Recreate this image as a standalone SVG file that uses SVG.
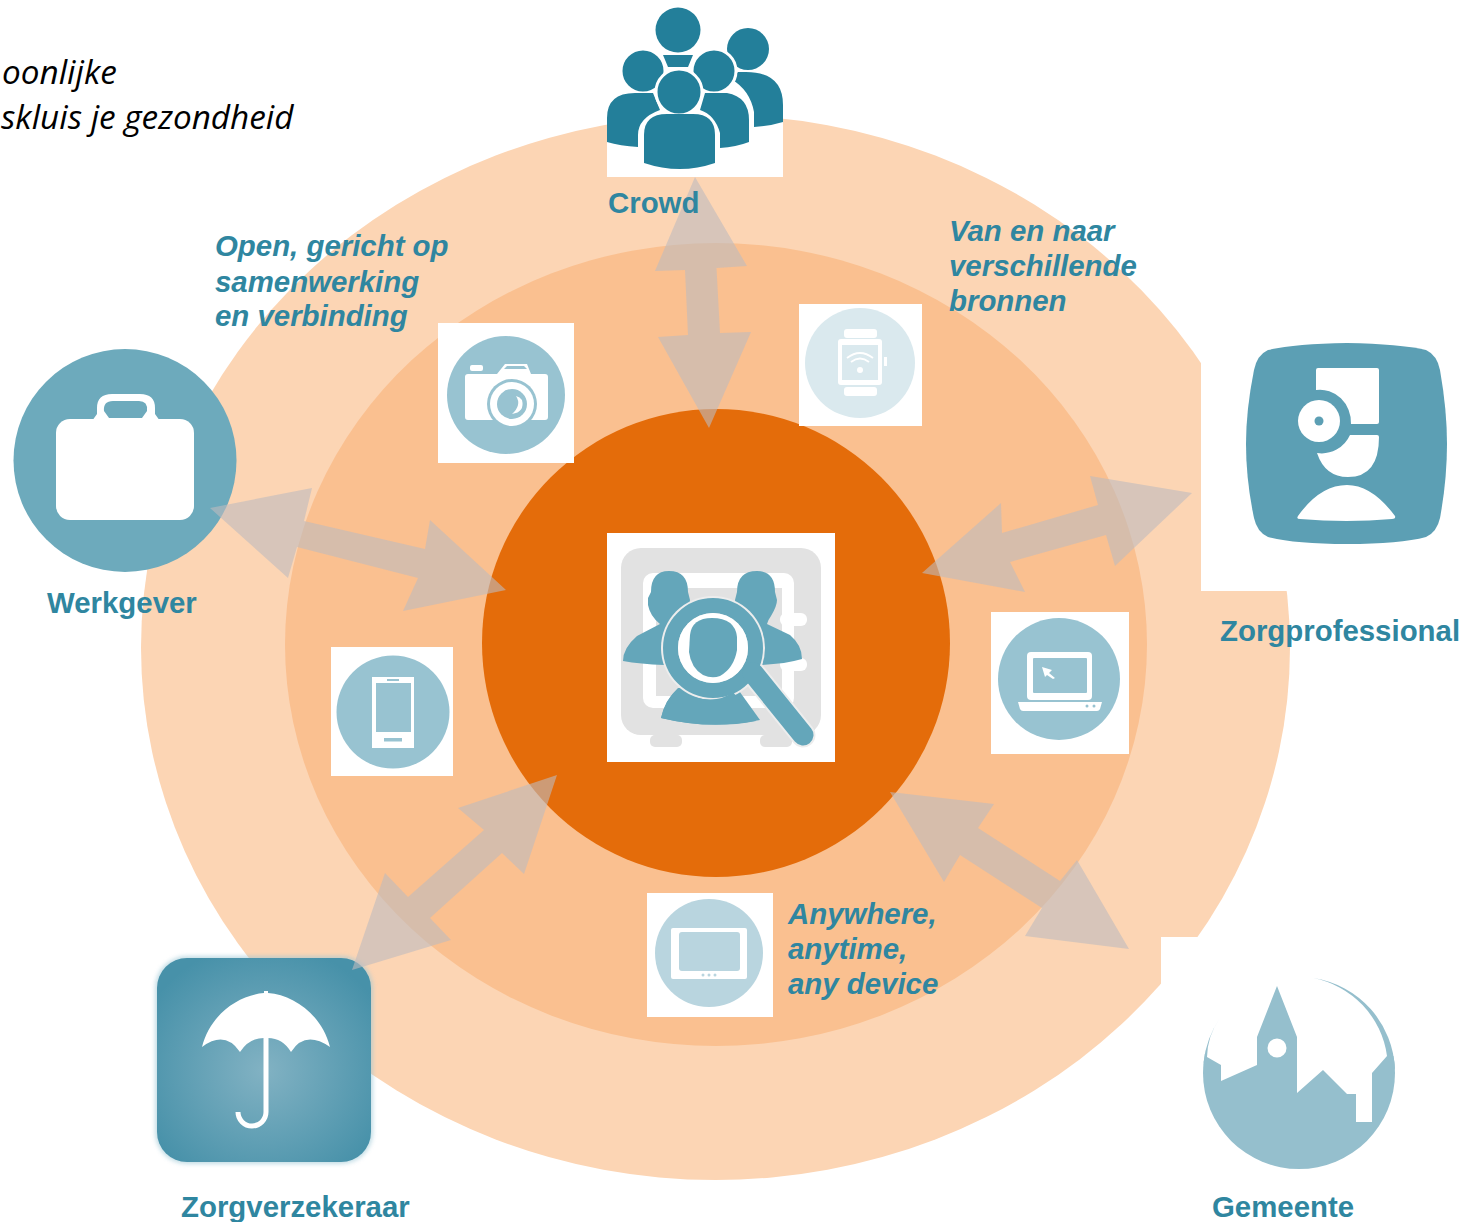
<svg xmlns="http://www.w3.org/2000/svg" width="1471" height="1222" viewBox="0 0 1471 1222">
<style>
.lab{font-family:"Liberation Sans",Arial,sans-serif;font-weight:bold;font-size:29.4px;fill:#2F86A0}
.it{font-style:italic}
.blk{font-family:"Open Sans","Noto Sans",sans-serif;font-style:italic;font-size:33.3px;fill:#000}
.arrow{fill:#BEBABE;fill-opacity:.6}
.w{fill:#fff}
.s{fill:#98C3D1}
</style>
<defs>
<radialGradient id="ug" cx="50%" cy="55%" r="62%"><stop offset="0" stop-color="#82B2C3"/><stop offset="1" stop-color="#4791A9"/></radialGradient>
<filter id="glow" x="-10%" y="-10%" width="120%" height="120%"><feGaussianBlur stdDeviation="2"/></filter>
</defs>
<rect width="1471" height="1222" fill="#fff"/>
<g id="rings">
<ellipse cx="715.5" cy="647.5" rx="574.5" ry="532.5" fill="#FCD5B4"/>
<rect class="w" x="1201" y="0" width="270" height="591"/>
<rect class="w" x="1161" y="937" width="310" height="285"/>
<ellipse cx="716" cy="644.5" rx="431" ry="401.5" fill="#FAC090"/>
<circle cx="716" cy="643" r="234" fill="#E46C0A"/>
</g>
<g id="intro">
<text class="blk" x="2" y="84">oonlijke</text>
<text class="blk" x="1" y="129">skluis je gezondheid</text>
</g>
<g id="camera">
<rect class="w" x="438" y="323" width="136" height="140"/>
<circle class="s" cx="506" cy="395" r="59"/>
<path class="w" d="M468,374H497L505,364H527L531,374H545Q548,374 548,377V417Q548,420 545,420H468Q465,420 465,417V377Q465,374 468,374Z"/>
<rect class="w" x="470" y="365" width="13" height="6" rx="2"/>
<path class="s" d="M504,369L507,366H524L527,369Z"/>
<circle class="s" cx="512" cy="404" r="25"/>
<circle class="w" cx="512" cy="404" r="22"/>
<circle class="s" cx="512" cy="404" r="15"/>
<path class="w" d="M516,396Q522,405 512,414Q525,412 522,400Q520,397 516,396Z"/>
</g>
<g id="watch">
<rect class="w" x="799" y="304" width="123" height="122"/>
<circle cx="860" cy="363" r="55" fill="#DAE9EE"/>
<rect class="w" x="844" y="329" width="33" height="9" rx="3"/>
<rect class="w" x="844" y="387" width="33" height="9" rx="3"/>
<rect class="w" x="838" y="339" width="44" height="46" rx="3"/>
<rect x="842" y="345" width="36" height="35" fill="#DAE9EE"/>
<rect class="w" x="884" y="357" width="3" height="9"/>
<g fill="none" stroke="#fff" stroke-width="1.8"><path d="M847,358Q860,348 873,358"/><path d="M851,362Q860,355 869,362"/></g>
<circle class="w" cx="860" cy="370" r="3"/>
</g>
<g id="phone">
<rect class="w" x="331" y="647" width="122" height="129"/>
<circle class="s" cx="393" cy="712" r="56.5"/>
<rect class="w" x="372" y="677" width="42" height="71"/>
<rect class="s" x="376" y="683" width="35" height="49"/>
<rect class="s" x="387" y="679" width="12" height="2"/>
<rect class="s" x="384" y="738" width="18" height="3.5"/>
</g>
<g id="laptop">
<rect class="w" x="991" y="612" width="138" height="142"/>
<circle class="s" cx="1059" cy="679" r="61"/>
<rect class="w" x="1027" y="652" width="65" height="48" rx="4"/>
<rect class="s" x="1033" y="658" width="54" height="35" rx="1"/>
<path class="w" d="M1042,667L1052,670L1049,673L1055,678L1053,679L1047,675L1045,677Z"/>
<path class="w" d="M1018,702H1102L1100,709Q1099,711 1097,711H1023Q1021,711 1020,709Z"/>
<circle class="s" cx="1087" cy="706" r="1.5"/><circle class="s" cx="1094" cy="706" r="1.5"/>
</g>
<g id="tablet">
<rect class="w" x="647" y="893" width="126" height="124"/>
<circle cx="709" cy="953" r="54" fill="#B9D5DF"/>
<rect class="w" x="671" y="928" width="76" height="51" rx="2"/>
<rect x="679" y="932" width="61" height="39" rx="3" fill="#B9D5DF"/>
<g fill="#B9D5DF"><circle cx="703" cy="975" r="1.5"/><circle cx="709" cy="975" r="1.5"/><circle cx="715" cy="975" r="1.5"/></g>
</g>
<g id="werkgever">
<circle cx="125" cy="460.5" r="111.5" fill="#6DAABC"/>
<rect class="w" x="56" y="419" width="138" height="101" rx="14"/>
<path d="M92,421L97,414V408Q97,394 112,394H140Q155,394 155,408V414L160,421Z" fill="#fff"/>
<path d="M109,418L104,411Q103,401 113,401H139Q148,401 147,411L142,418Z" fill="#6DAABC"/>
<text class="lab" x="47" y="613">Werkgever</text>
</g>
<g id="umbrella">
<rect x="155" y="956" width="218" height="208" rx="32" fill="#9CC7D5" opacity=".6" filter="url(#glow)"/>
<rect x="157" y="958" width="214" height="204" rx="30" fill="url(#ug)"/>
<path class="w" d="M202,1047C210,1015 238,995 264,993V991H268V993C294,995 322,1015 330,1047Q305,1030 291,1052Q282,1037 266,1038Q250,1037 240,1052Q225,1030 202,1047Z"/>
<path d="M266,1038V1112A14,14 0 0 1 238,1112" fill="none" stroke="#fff" stroke-width="5"/>
</g>
<g id="connectors">
<polygon class="arrow" points="695,177 747,266 716.500,268 720,333 751,332 709,428 658,337 688,335 685,270 655,271"/>
<polygon class="arrow" points="210,508 312,488 304,521 425,549 430,520 506,590 403,611 418,578 297,547 288,578"/>
<polygon class="arrow" points="1192,493 1090,476 1098,505 1002,533 1001,503 922,573 1025,592 1010,562 1106,535 1115,566"/>
<polygon class="arrow" points="890,792 994,804 978,828 1060,881 1077,860 1129,949 1025,936 1042,908 960,855 944,882"/>
<polygon class="arrow" points="557,775 458,808 484,830 408,897 385,873 352,970 451,940 430,918 502,853 524,874"/>
</g>
<g id="crowd">
<rect class="w" x="607" y="0" width="176" height="177"/>
<g fill="#237F9A" stroke="#fff" stroke-width="0">
<circle cx="678" cy="30" r="22.5"/>
<path d="M663,55H693L688,67H668Z"/>
<circle cx="748" cy="49" r="21"/>
<path d="M738,72H746Q783,72 783,105V122Q770,126 754,127V112Q750,90 731,79Z"/>
</g>
<g fill="#237F9A" stroke="#fff" stroke-width="3">
<circle cx="643" cy="71" r="22"/>
<circle cx="714" cy="71" r="22"/>
<path stroke="none" d="M607,142V118Q607,93 635,93H653L660,110Q638,118 638,135V147Q620,146 607,142Z"/>
<path stroke="none" d="M705,93H727Q749,97 749,120V142Q736,147 720,148V133Q715,115 700,110Z"/>
<circle cx="679" cy="92" r="23"/>
<path stroke="none" d="M644,163V135Q644,114 667,114H693Q715,114 715,135V163Q680,175 644,163Z"/>
</g>
<text class="lab" x="608" y="213">Crowd</text>
</g>
<g id="zorgprofessional">
<path d="M1347,343Q1400,344 1426,350Q1437,355 1440,370Q1447,410 1447,444Q1447,480 1440,518Q1437,532 1426,537Q1400,544 1347,544Q1294,544 1268,537Q1257,532 1254,518Q1246,480 1246,444Q1246,410 1254,370Q1257,355 1268,350Q1294,344 1347,343Z" fill="#5C9FB4"/>
<path class="w" d="M1318,368H1377Q1379,368 1379,370V422Q1379,424 1377,424H1351A31,33 0 0 0 1316,390V370Q1316,368 1318,368Z"/>
<circle class="w" cx="1319" cy="421" r="21"/>
<circle cx="1319" cy="421" r="4.500" fill="#5C9FB4"/>
<path class="w" d="M1350,435H1377Q1379,435 1379,437Q1379,477 1348,477Q1325,477 1317,453A31,31 0 0 0 1350,435Z"/>
<path class="w" d="M1298,516Q1320,485 1347,485Q1372,485 1395,516Q1396,519 1392,519Q1347,523 1300,519Q1296,519 1298,516Z"/>
<text class="lab" x="1220" y="641">Zorgprofessional</text>
</g>
<g id="gemeente">
<circle cx="1299" cy="1073" r="96" fill="#95BFCD"/>
<path class="w" d="M1207,1057L1195,1040V970H1405V1056H1387L1372,1073V1122H1356V1094H1347L1323,1070L1297,1093V1037L1277,986L1257,1037V1065L1221,1081V1065Z"/>
<path fill="#95BFCD" d="M1220,1018A96,96 0 0 0 1203.500,1063L1207,1057A70,70 0 0 1 1220,1018Z"/>
<path fill="#95BFCD" d="M1313,978A96,96 0 0 1 1395,1070L1387,1056A92,92 0 0 0 1313,978Z"/>
<circle class="w" cx="1277" cy="1048" r="9.500"/>
<text class="lab" x="1212" y="1217">Gemeente</text>
</g>
<g id="centre">
<rect class="w" x="607" y="533" width="228" height="229"/>
<rect x="621" y="548" width="200" height="187" rx="20" fill="#E2E2E2"/>
<rect x="650" y="735" width="32" height="12" rx="5" fill="#E2E2E2"/>
<rect x="760" y="735" width="32" height="12" rx="5" fill="#E2E2E2"/>
<rect class="w" x="643" y="573" width="151" height="135" rx="10"/>
<rect x="656" y="588" width="126" height="108" fill="#E2E2E2"/>
<rect class="w" x="780" y="613" width="27" height="13" rx="6"/>
<rect class="w" x="780" y="658" width="27" height="13" rx="6"/>
<g fill="#64A6BA">
<path d="M651,592Q651,571 669,571Q688,571 688,592L690,600Q690,606 684,610L664,665Q640,664 623,661Q623,648 637,636L660,624Q650,616 648,605V598Z"/>
<path d="M737,592Q737,571 757,571Q775,571 775,592L777,600Q777,606 771,616Q768,620 767,624L790,635Q802,645 802,659Q785,664 760,665L740,610Q735,606 735,600Z"/>
<path d="M661,718Q665,700 678,688H737L760,720Q710,730 661,718Z"/>
</g>
<circle cx="713" cy="648" r="52" fill="#EDEDED"/>
<path d="M753,673L803,735" stroke="#EDEDED" stroke-width="25" stroke-linecap="round"/>
<path d="M661,718Q665,700 677,690Q712,708 733,692L756,721Q710,730 661,718Z" fill="#64A6BA"/>
<circle cx="713" cy="648" r="42.500" fill="none" stroke="#64A6BA" stroke-width="15"/>
<circle cx="713" cy="648" r="35" fill="#fff"/>
<path d="M690,635Q692,618 712,618Q735,618 737,637V650Q734,668 720,676Q712,679 703,675Q691,668 689,652Z" fill="#64A6BA"/>
<path d="M753,673L803,735" stroke="#64A6BA" stroke-width="21" stroke-linecap="round"/>
</g>
<g id="labels">
<text class="lab it" x="215" y="256">Open, gericht op</text>
<text class="lab it" x="215" y="292">samenwerking</text>
<text class="lab it" x="215" y="326">en verbinding</text>
<text class="lab it" x="949" y="241">Van en naar</text>
<text class="lab it" x="949" y="276">verschillende</text>
<text class="lab it" x="949" y="311">bronnen</text>
<text class="lab it" x="788" y="924">Anywhere,</text>
<text class="lab it" x="788" y="959">anytime,</text>
<text class="lab it" x="788" y="994">any device</text>
<text class="lab" x="181" y="1217">Zorgverzekeraar</text>
</g>
</svg>
